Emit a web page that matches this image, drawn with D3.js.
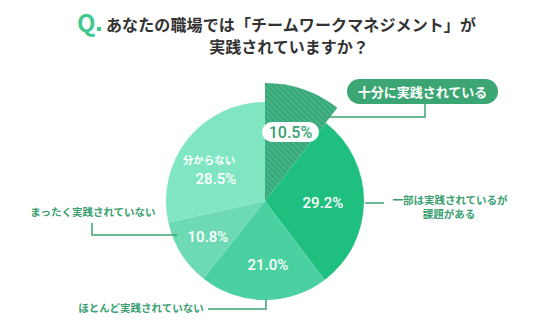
<!DOCTYPE html>
<html>
<head>
<meta charset="utf-8">
<script src="https://cdn.jsdelivr.net/npm/d3@7/dist/d3.min.js"></script>
<style>
  html, body { margin: 0; padding: 0; background: #fff; }
  svg { display: block; }
  text { font-family: "Noto Sans CJK JP", "Noto Sans", sans-serif; }
  .pct { font-family: Roboto, "Noto Sans", sans-serif; font-weight: 500; }
</style>
</head>
<body>
<svg id="chart" width="536" height="335"></svg>
<script>
// Survey answers, clockwise from 12 o'clock
const categories = [
  "十分に実践されている",
  "一部は実践されているが課題がある",
  "ほとんど実践されていない",
  "まったく実践されていない",
  "分からない"
];
const values = [10.5, 29.2, 21.0, 10.8, 28.5];
const valueLabels = ["10.5%", "29.2%", "21.0%", "10.8%", "28.5%"];
const sliceColors = ["#3aa97a", "#1fbf7f", "#4bd1a1", "#6edab3", "#80e6c2"];

const titleLines = ["あなたの職場では「チームワークマネジメント」が", "実践されていますか？"];

const svg = d3.select("#chart");
const green = "#3ba673";
const labelGreen = "#3a9f70";

// Title
svg.append("text").attr("x", 77).attr("y", 32)
  .attr("font-family", "Roboto, sans-serif").attr("font-weight", 700)
  .attr("font-size", 24).attr("fill", "#3ec98f").text("Q");
svg.append("rect").attr("x", 97).attr("y", 27).attr("width", 4).attr("height", 4)
  .attr("fill", "#3ec98f");
svg.append("text").attr("x", 106).attr("y", 31)
  .attr("font-size", 16).attr("font-weight", 700).attr("fill", "#333")
  .attr("textLength", 370).attr("lengthAdjust", "spacing")
  .text(titleLines[0]);
svg.append("text").attr("x", 289).attr("y", 53).attr("text-anchor", "middle")
  .attr("font-size", 16).attr("font-weight", 700).attr("fill", "#333")
  .text(titleLines[1]);

// Stripe pattern for the highlighted slice
const defs = svg.append("defs");
const pat = defs.append("pattern").attr("id", "stripes")
  .attr("patternUnits", "userSpaceOnUse").attr("width", 4).attr("height", 4)
  .attr("patternTransform", "rotate(-45)");
pat.append("rect").attr("width", 4).attr("height", 4).attr("fill", "#37a678");
pat.append("rect").attr("width", 2).attr("height", 4).attr("fill", "#46b486");

const cx = 265, cy = 201, r = 99, rBig = 118;
const g = svg.append("g").attr("transform", `translate(${cx},${cy})`);

const pie = d3.pie().value(d => d).sort(null);
const arcs = pie(values);
const arcNormal = d3.arc().innerRadius(0).outerRadius(r);
const arcLarge = d3.arc().innerRadius(0).outerRadius(rBig);

g.selectAll("path.slice").data(arcs).join("path")
  .attr("class", "slice")
  .attr("d", (d, i) => i === 0 ? arcLarge(d) : arcNormal(d))
  .attr("fill", (d, i) => i === 0 ? "url(#stripes)" : sliceColors[i]);

// Helper: polar point relative to pie centre
const pt = (angle, rad) => [cx + rad * Math.sin(angle), cy - rad * Math.cos(angle)];

// Leader lines
const lineStyle = sel => sel.attr("fill", "none").attr("stroke", green).attr("stroke-width", 1.5);

// Slice 0: pill label above right
const a0 = arcs[0];
const p0 = pt(a0.endAngle - 0.02, rBig - 4);
svg.append("path").call(lineStyle)
  .attr("d", `M425,104 V117 H${p0[0] - 8}`);
svg.append("rect").attr("x", 347).attr("y", 79).attr("width", 151).attr("height", 25)
  .attr("rx", 12.5).attr("fill", green);
svg.append("text").attr("x", 422.5).attr("y", 96.5).attr("text-anchor", "middle")
  .attr("font-size", 13).attr("font-weight", 700).attr("fill", "#fff")
  .text(categories[0]);
// value badge
svg.append("rect").attr("x", 262).attr("y", 122).attr("width", 57).attr("height", 20)
  .attr("rx", 10).attr("fill", "#fff");
svg.append("text").attr("class", "pct").attr("x", 290.5).attr("y", 138)
  .attr("text-anchor", "middle").attr("font-size", 16).attr("fill", labelGreen)
  .text(valueLabels[0]);

// Slice 1
svg.append("text").attr("class", "pct").attr("x", 323).attr("y", 208)
  .attr("text-anchor", "middle").attr("font-size", 15).attr("fill", "#fff")
  .text(valueLabels[1]);
svg.append("path").call(lineStyle).attr("d", `M365,203 H384`);
svg.append("text").attr("x", 450).attr("y", 204).attr("text-anchor", "middle")
  .attr("font-size", 10.5).attr("font-weight", 700).attr("fill", labelGreen)
  .text("一部は実践されているが");
svg.append("text").attr("x", 449).attr("y", 218).attr("text-anchor", "middle")
  .attr("font-size", 10.5).attr("font-weight", 700).attr("fill", labelGreen)
  .text("課題がある");

// Slice 2
svg.append("text").attr("class", "pct").attr("x", 268).attr("y", 270)
  .attr("text-anchor", "middle").attr("font-size", 15).attr("fill", "#fff")
  .text(valueLabels[2]);
svg.append("path").call(lineStyle).attr("d", `M266,299 V309 H208`);
svg.append("text").attr("x", 141).attr("y", 312).attr("text-anchor", "middle")
  .attr("font-size", 10.5).attr("font-weight", 700).attr("fill", labelGreen)
  .text(categories[2]);

// Slice 3
svg.append("text").attr("class", "pct").attr("x", 208).attr("y", 242)
  .attr("text-anchor", "middle").attr("font-size", 15).attr("fill", "#fff")
  .text(valueLabels[3]);
svg.append("path").call(lineStyle).attr("d", `M177,235 H92 V223`);
svg.append("text").attr("x", 93).attr("y", 216).attr("text-anchor", "middle")
  .attr("font-size", 10.5).attr("font-weight", 700).attr("fill", labelGreen)
  .text(categories[3]);

// Slice 4
svg.append("text").attr("x", 209).attr("y", 164).attr("text-anchor", "middle")
  .attr("font-size", 10.5).attr("font-weight", 700).attr("fill", "#fff")
  .text(categories[4]);
svg.append("text").attr("class", "pct").attr("x", 216).attr("y", 184)
  .attr("text-anchor", "middle").attr("font-size", 15).attr("fill", "#fff")
  .text(valueLabels[4]);
</script>
</body>
</html>
